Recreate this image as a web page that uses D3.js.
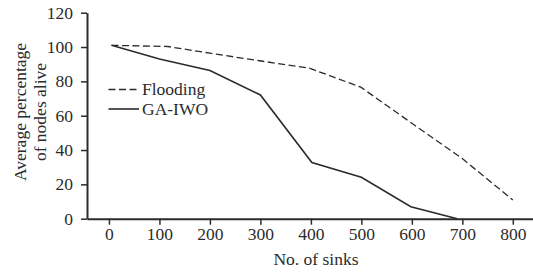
<!DOCTYPE html>
<html>
<head>
<meta charset="utf-8">
<script src="https://cdn.jsdelivr.net/npm/d3@7"></script>
<style>
  body { margin: 0; background: #fff; }
</style>
</head>
<body>
<svg width="533" height="272" font-family="Liberation Serif"></svg>
<script>
// data
var floodingX = [5, 117, 200, 298, 397, 499, 600, 700, 800];
var floodingY = [101, 100.3, 96.4, 92, 87.7, 76.6, 55.6, 35, 10.9];
var gaiwoX = [5, 100, 200, 300, 402, 500, 598, 690];
var gaiwoY = [101, 93, 86.3, 72.1, 32.7, 24.1, 7, 0];
var xTicks = [0, 100, 200, 300, 400, 500, 600, 700, 800];
var yTicks = [0, 20, 40, 60, 80, 100, 120];

var svg = d3.select("svg");
var ink = "#2b2b2b";
var fs = 17.5;

// scales
var x = d3.scaleLinear().domain([-43.5, 840]).range([87, 533]);
var y = d3.scaleLinear().domain([0, 120]).range([218.7, 12.7]);

// axes
var xAxis = svg.append("g")
    .attr("transform", "translate(0," + y(0) + ")")
    .call(d3.axisBottom(x).tickValues(xTicks).tickSize(6).tickSizeOuter(0));
var yAxis = svg.append("g")
    .attr("transform", "translate(" + x(-43.5) + ",0)")
    .call(d3.axisLeft(y).tickValues(yTicks).tickSize(6).tickSizeOuter(0));

[xAxis, yAxis].forEach(function(a) {
  // d3 puts sans-serif on the axis group, override it
  a.attr("font-family", "Liberation Serif").attr("font-size", fs);
  a.select(".domain").attr("stroke", ink).attr("stroke-width", 2);
  a.selectAll(".tick line").attr("stroke", ink).attr("stroke-width", 1.5);
  a.selectAll(".tick text").attr("fill", ink);
});
xAxis.selectAll(".tick text").attr("y", 9);
yAxis.selectAll(".tick text").attr("x", -14);

// lines
var line = d3.line()
    .x(function(d) { return x(d[0]); })
    .y(function(d) { return y(d[1]); });

svg.append("path")
    .datum(d3.zip(floodingX, floodingY))
    .attr("d", line)
    .attr("fill", "none")
    .attr("stroke", ink)
    .attr("stroke-width", 1.3)
    .attr("stroke-dasharray", "7,3.5");

svg.append("path")
    .datum(d3.zip(gaiwoX, gaiwoY))
    .attr("d", line)
    .attr("fill", "none")
    .attr("stroke", ink)
    .attr("stroke-width", 1.6);

// legend
var legend = svg.append("g").attr("font-size", fs).attr("fill", ink);
legend.append("line")
    .attr("x1", 108.5).attr("x2", 139).attr("y1", 89.5).attr("y2", 89.5)
    .attr("stroke", ink).attr("stroke-width", 1.3).attr("stroke-dasharray", "7,3.5");
legend.append("text").attr("x", 142).attr("y", 95).text("Flooding");
legend.append("line")
    .attr("x1", 108.5).attr("x2", 139).attr("y1", 109).attr("y2", 109)
    .attr("stroke", ink).attr("stroke-width", 1.6);
legend.append("text").attr("x", 142).attr("y", 114.5).text("GA-IWO");

// axis titles
svg.append("text")
    .attr("x", 316).attr("y", 265)
    .attr("text-anchor", "middle")
    .attr("font-size", fs).attr("fill", ink)
    .text("No. of sinks");

var yTitle = svg.append("text")
    .attr("transform", "translate(0,112) rotate(-90)")
    .attr("text-anchor", "middle")
    .attr("font-size", fs).attr("fill", ink);
yTitle.append("tspan").attr("x", 0).attr("y", 26).text("Average percentage");
yTitle.append("tspan").attr("x", 0).attr("y", 45.5).text("of nodes alive");
</script>
</body>
</html>
